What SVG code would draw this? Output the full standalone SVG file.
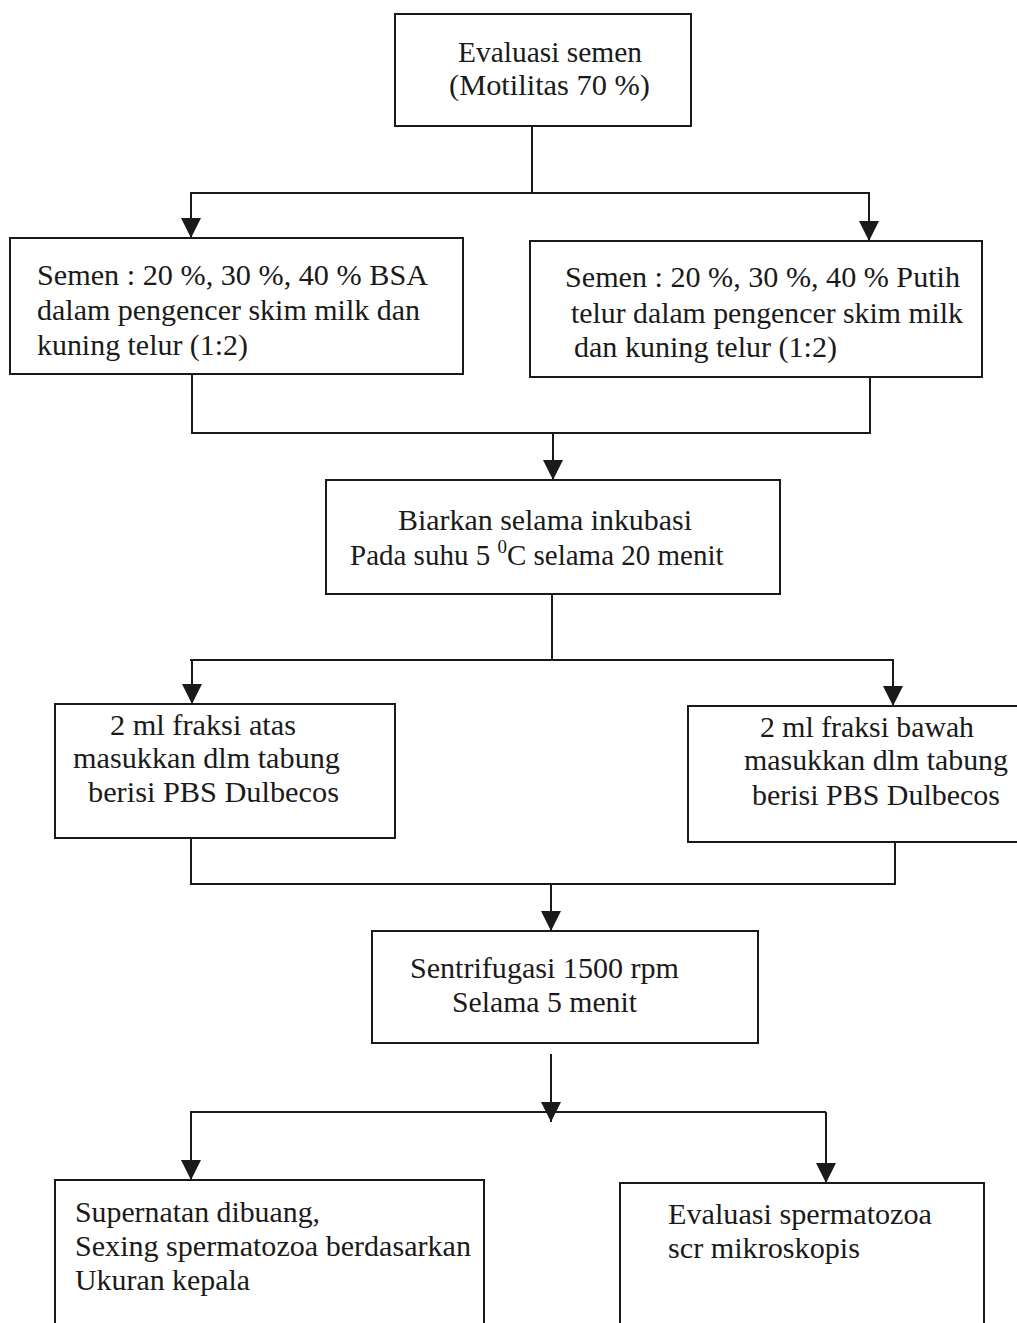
<svg xmlns="http://www.w3.org/2000/svg" width="1017" height="1323" viewBox="0 0 1017 1323">
<style>
.box{fill:#fff;stroke:#1a1a1a;stroke-width:2}
.ln{fill:none;stroke:#1a1a1a;stroke-width:2}
text{font-family:"Liberation Serif","Times New Roman",serif;font-size:29px;fill:#1a1a1a}
</style>
<defs>
<marker id="ah" viewBox="0 0 20 20" refX="20" refY="10" markerWidth="20" markerHeight="20" markerUnits="userSpaceOnUse" orient="auto">
<path d="M0,0 L20,10 L0,20 Z" fill="#1a1a1a"/>
</marker>
</defs>
<rect width="1017" height="1323" fill="#fff"/>
<g id="connectors">
<path class="ln" d="M532,126 V193"/>
<path class="ln" d="M190,193 H870"/>
<path class="ln" d="M191,193 V238" marker-end="url(#ah)"/>
<path class="ln" d="M869,193 V241" marker-end="url(#ah)"/>
<path class="ln" d="M192,374 V433 H870 V377"/>
<path class="ln" d="M553,433 V480" marker-end="url(#ah)"/>
<path class="ln" d="M552,594 V660"/>
<path class="ln" d="M190,660 H894"/>
<path class="ln" d="M192,660 V704" marker-end="url(#ah)"/>
<path class="ln" d="M893,660 V706" marker-end="url(#ah)"/>
<path class="ln" d="M191,838 V884 H895 V842"/>
<path class="ln" d="M551,884 V931" marker-end="url(#ah)"/>
<path class="ln" d="M551,1054 V1122" marker-end="url(#ah)"/>
<path class="ln" d="M190,1112 H826"/>
<path class="ln" d="M191,1112 V1180" marker-end="url(#ah)"/>
<path class="ln" d="M826,1112 V1183" marker-end="url(#ah)"/>
</g>
<g id="n1">
<rect class="box" x="395" y="14" width="296" height="112"/>
<text x="458" y="62" textLength="184" lengthAdjust="spacingAndGlyphs">Evaluasi semen</text>
<text x="449" y="95" textLength="201" lengthAdjust="spacingAndGlyphs">(Motilitas 70 %)</text>
</g>
<g id="n2">
<rect class="box" x="10" y="238" width="453" height="136"/>
<text x="37" y="285" textLength="391" lengthAdjust="spacingAndGlyphs">Semen : 20 %, 30 %, 40 % BSA</text>
<text x="37" y="320" textLength="383" lengthAdjust="spacingAndGlyphs">dalam pengencer skim milk dan</text>
<text x="37" y="355" textLength="211" lengthAdjust="spacingAndGlyphs">kuning telur (1:2)</text>
</g>
<g id="n3">
<rect class="box" x="530" y="241" width="452" height="136"/>
<text x="565" y="287" textLength="395" lengthAdjust="spacingAndGlyphs">Semen : 20 %, 30 %, 40 % Putih</text>
<text x="571" y="323" textLength="392" lengthAdjust="spacingAndGlyphs">telur dalam pengencer skim milk</text>
<text x="574" y="357" textLength="263" lengthAdjust="spacingAndGlyphs">dan kuning telur (1:2)</text>
</g>
<g id="n4">
<rect class="box" x="326" y="480" width="454" height="114"/>
<text x="398" y="530" textLength="294" lengthAdjust="spacingAndGlyphs">Biarkan selama inkubasi</text>
<text x="350" y="565">Pada suhu 5 <tspan font-size="19" dy="-12">0</tspan><tspan dy="12">C selama 20 menit</tspan></text>
</g>
<g id="n5">
<rect class="box" x="55" y="704" width="340" height="134"/>
<text x="110" y="735" textLength="186" lengthAdjust="spacingAndGlyphs">2 ml fraksi atas</text>
<text x="73" y="768" textLength="267" lengthAdjust="spacingAndGlyphs">masukkan dlm tabung</text>
<text x="88" y="802" textLength="251" lengthAdjust="spacingAndGlyphs">berisi PBS Dulbecos</text>
</g>
<g id="n6">
<rect class="box" x="688" y="706" width="345" height="136"/>
<text x="760" y="737" textLength="214" lengthAdjust="spacingAndGlyphs">2 ml fraksi bawah</text>
<text x="744" y="770" textLength="264" lengthAdjust="spacingAndGlyphs">masukkan dlm tabung</text>
<text x="752" y="805" textLength="248" lengthAdjust="spacingAndGlyphs">berisi PBS Dulbecos</text>
</g>
<g id="n7">
<rect class="box" x="372" y="931" width="386" height="112"/>
<text x="410" y="978" textLength="269" lengthAdjust="spacingAndGlyphs">Sentrifugasi 1500 rpm</text>
<text x="452" y="1012" textLength="185" lengthAdjust="spacingAndGlyphs">Selama 5 menit</text>
</g>
<g id="n8">
<rect class="box" x="55" y="1180" width="429" height="170"/>
<text x="75" y="1222" textLength="245" lengthAdjust="spacingAndGlyphs">Supernatan dibuang,</text>
<text x="75" y="1256" textLength="396" lengthAdjust="spacingAndGlyphs">Sexing spermatozoa berdasarkan</text>
<text x="75" y="1290" textLength="175" lengthAdjust="spacingAndGlyphs">Ukuran kepala</text>
</g>
<g id="n9">
<rect class="box" x="620" y="1183" width="364" height="170"/>
<text x="668" y="1224" textLength="264" lengthAdjust="spacingAndGlyphs">Evaluasi spermatozoa</text>
<text x="668" y="1258" textLength="192" lengthAdjust="spacingAndGlyphs">scr mikroskopis</text>
</g>
</svg>
